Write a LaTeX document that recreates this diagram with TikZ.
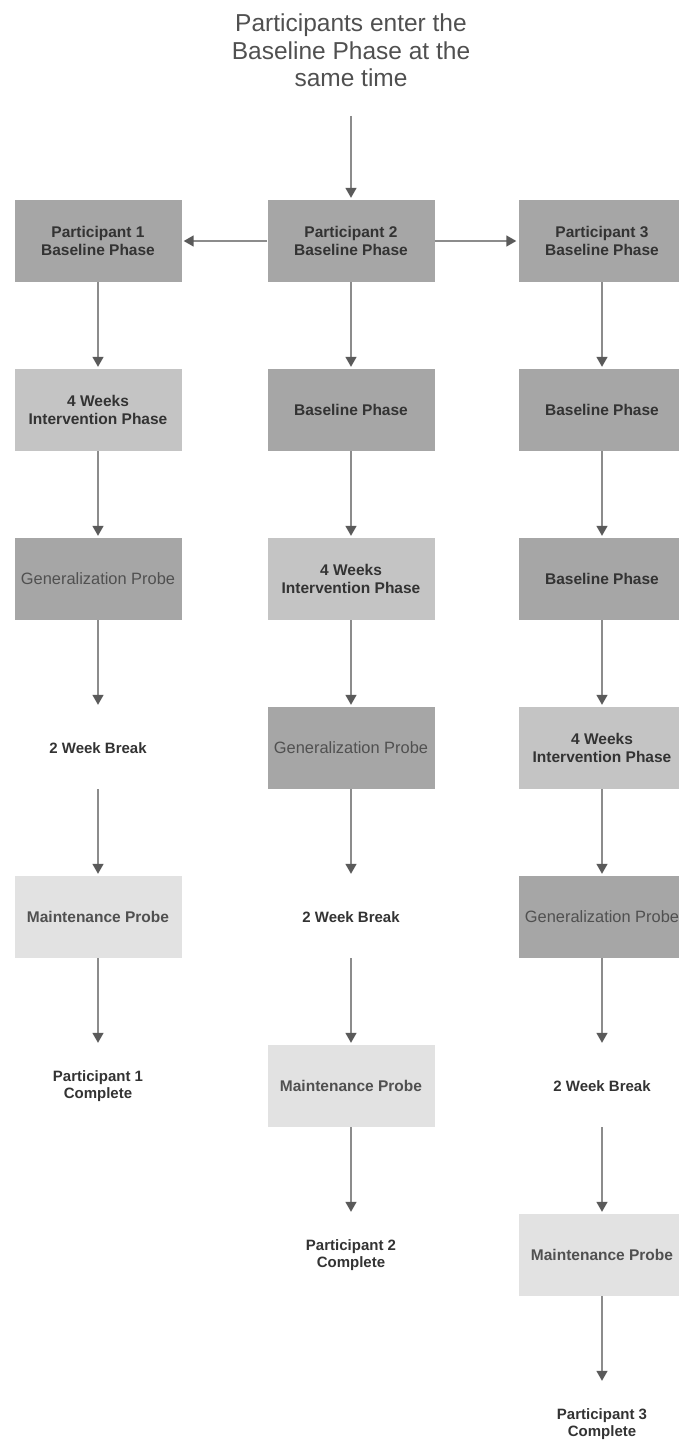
\documentclass[tikz,border=0pt]{standalone}
\usepackage{fontspec}
\setmainfont{Liberation Sans}
\usetikzlibrary{arrows.meta}
\definecolor{darkbox}{HTML}{A6A6A6}
\definecolor{midbox}{HTML}{C4C4C4}
\definecolor{lightbox}{HTML}{E2E2E2}
\definecolor{arrowgray}{HTML}{8C8C8C}
\definecolor{tipgray}{HTML}{5A5A5A}
\definecolor{textgray}{HTML}{333333}
\definecolor{softgray}{HTML}{505050}
\tikzset{
  phase/.style={minimum width=167pt, minimum height=82pt, inner sep=0pt, align=center,
    text=textgray, font=\fontsize{15.5}{18}\selectfont\bfseries},
  basebox/.style={phase, fill=darkbox},
  intbox/.style={phase, fill=midbox},
  genbox/.style={phase, fill=darkbox, text=softgray, font=\fontsize{16.4}{18}\selectfont},
  maintbox/.style={phase, fill=lightbox, text=softgray},
  freetext/.style={phase, font=\fontsize{15}{17}\selectfont\bfseries},
  flow/.style={draw=arrowgray, line width=1.5pt,
    -{Triangle[length=10pt,width=11pt,color=tipgray]}, shorten >=2pt}
}
\begin{document}
\begin{tikzpicture}[x=1pt, y=-1pt]
    \useasboundingbox (0,0) rectangle (678,1441);
    % title
    \node[anchor=north, inner sep=0pt, align=center, text=softgray,
      font=\fontsize{24.5}{27.3}\selectfont] (title) at (351,14)
      {Participants enter the\\Baseline Phase at the\\same time};
    % first row
    \node[basebox] (p1base) at (98,241) {Participant 1\\Baseline Phase};
    \node[basebox] (p2base) at (351,241) {Participant 2\\Baseline Phase};
    \node[basebox] (p3base) at (602,241) {Participant 3\\Baseline Phase};
    % participant 1
    \node[intbox] (p1int) at (98,410) {4 Weeks\\Intervention Phase};
    \node[genbox] (p1gen) at (98,579) {Generalization Probe};
    \node[freetext] (p1break) at (98,748) {2 Week Break};
    \node[maintbox] (p1maint) at (98,917) {Maintenance Probe};
    \node[freetext] (p1done) at (98,1086) {Participant 1\\Complete};
    % participant 2
    \node[basebox] (p2wait) at (351,410) {Baseline Phase};
    \node[intbox] (p2int) at (351,579) {4 Weeks\\Intervention Phase};
    \node[genbox] (p2gen) at (351,748) {Generalization Probe};
    \node[freetext] (p2break) at (351,917) {2 Week Break};
    \node[maintbox] (p2maint) at (351,1086) {Maintenance Probe};
    \node[freetext] (p2done) at (351,1255) {Participant 2\\Complete};
    % participant 3
    \node[basebox] (p3wait) at (602,410) {Baseline Phase};
    \node[basebox] (p3waitb) at (602,579) {Baseline Phase};
    \node[intbox] (p3int) at (602,748) {4 Weeks\\Intervention Phase};
    \node[genbox] (p3gen) at (602,917) {Generalization Probe};
    \node[freetext] (p3break) at (602,1086) {2 Week Break};
    \node[maintbox] (p3maint) at (602,1255) {Maintenance Probe};
    \node[freetext] (p3done) at (602,1424) {Participant 3\\Complete};
    % arrows
    \draw[flow, shorten <=29pt] (title.south) -- (p2base.north);
    \draw[flow] (p2base.west) -- (p1base.east);
    \draw[flow] (p2base.east) -- (p3base.west);
    \draw[flow] (p1base) -- (p1int);
    \draw[flow] (p1int) -- (p1gen);
    \draw[flow] (p1gen) -- (p1break);
    \draw[flow] (p1break) -- (p1maint);
    \draw[flow] (p1maint) -- (p1done);
    \draw[flow] (p2base) -- (p2wait);
    \draw[flow] (p2wait) -- (p2int);
    \draw[flow] (p2int) -- (p2gen);
    \draw[flow] (p2gen) -- (p2break);
    \draw[flow] (p2break) -- (p2maint);
    \draw[flow] (p2maint) -- (p2done);
    \draw[flow] (p3base) -- (p3wait);
    \draw[flow] (p3wait) -- (p3waitb);
    \draw[flow] (p3waitb) -- (p3int);
    \draw[flow] (p3int) -- (p3gen);
    \draw[flow] (p3gen) -- (p3break);
    \draw[flow] (p3break) -- (p3maint);
    \draw[flow] (p3maint) -- (p3done);
\end{tikzpicture}
\end{document}
